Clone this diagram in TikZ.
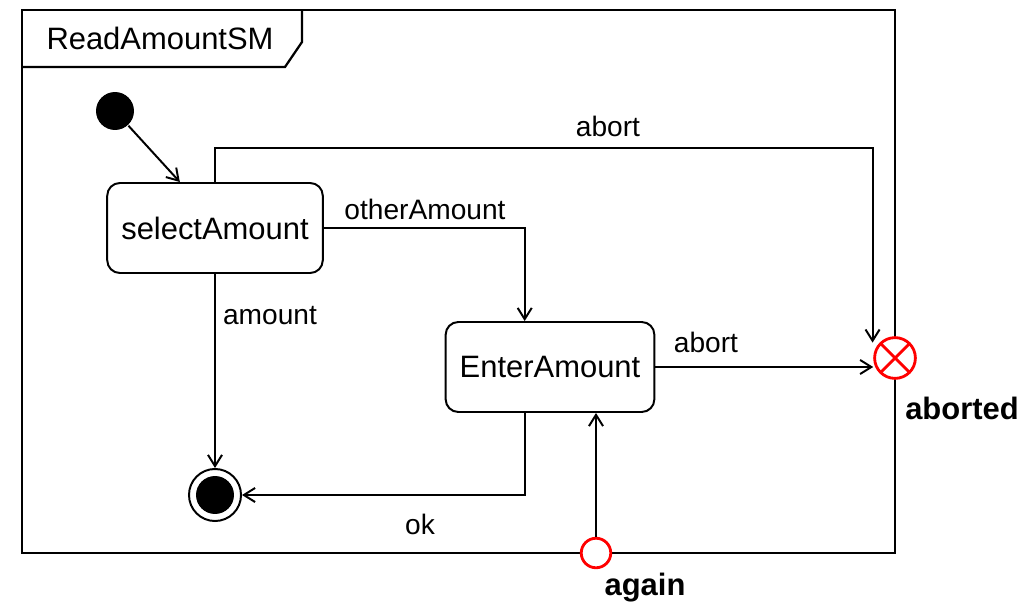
\documentclass[tikz,border=0pt]{standalone}
\usepackage{fontspec}
\setmainfont{Liberation Sans}
\usetikzlibrary{arrows.meta,calc}

\begin{document}
\begin{tikzpicture}[x=0.025cm, y=-0.025cm, line width=1.4pt,
	font=\fontsize{20}{24}\selectfont,
	>={Straight Barb[length=8pt,width=10pt]},
	state/.style={draw, rounded corners=9pt, inner xsep=10pt, minimum height=64pt, font=\fontsize{22}{26}\selectfont},
	initial/.style={circle, fill, inner sep=0pt, minimum size=27pt},
	final/.style={circle, draw, inner sep=0pt, minimum size=37pt,
		path picture={\fill (path picture bounding box.center) circle (13.5pt);}},
	exitpt/.style={circle, draw=red, fill=white, line width=2pt, inner sep=0pt, minimum size=29pt,
		path picture={\draw [red, line width=2pt] (path picture bounding box.center) +(45:15pt) -- +(225:15pt)
			(path picture bounding box.center) +(135:15pt) -- +(-45:15pt);}},
	entrypt/.style={circle, draw=red, fill=white, line width=2pt, inner sep=0pt, minimum size=21pt},
	pointlabel/.style={font=\fontsize{22}{26}\selectfont\bfseries}]
	\useasboundingbox (0,0) rectangle (1031,602);
	%
	\draw [line width=1.6pt] (22,10) rectangle (895,553);
	\draw [line width=1.6pt] (22,67) -- (285,67) -- (302,42) -- (302,10);
	\node [font=\fontsize{22}{26}\selectfont] (title) at (160,38) {ReadAmountSM};
	%
	\node [initial] (init) at (115,111) {};
	\node [state] (sel) at (215,228) {selectAmount};
	\node [state] (enter) at (550,367) {EnterAmount};
	\node [final] (final) at (215,495) {};
	\node [exitpt] (exit) at (895,358) {};
	\node [entrypt] (entry) at (596,553) {};
	\node [pointlabel] (abortedlbl) at (962,408) {aborted};
	\node [pointlabel] (againlbl) at (645,588) {again};
	%
	\draw [->] (init) -- ([xshift=-25pt]sel.north);
	\draw [->] (sel.north) -- ++(0,-34) -| ([xshift=-5pt]exit.north west);
	\draw [->] (sel.east) -| ([xshift=-18pt]enter.north);
	\draw [->] (sel.south) -- (final.north);
	\draw [->] (enter.east) -- (enter.east -| exit.west);
	\draw [->] ([xshift=-18pt]enter.south) |- (final.east);
	\draw [->] (entry.north) -- (entry.north |- enter.south);
	%
	\node (abortlbl1) at (608,126) {abort};
	\node (otherlbl) at (425,209) {otherAmount};
	\node (amountlbl) at (270,316) {amount};
	\node (abortlbl2) at (706,342) {abort};
	\node (oklbl) at (420,524) {ok};
\end{tikzpicture}
\end{document}
